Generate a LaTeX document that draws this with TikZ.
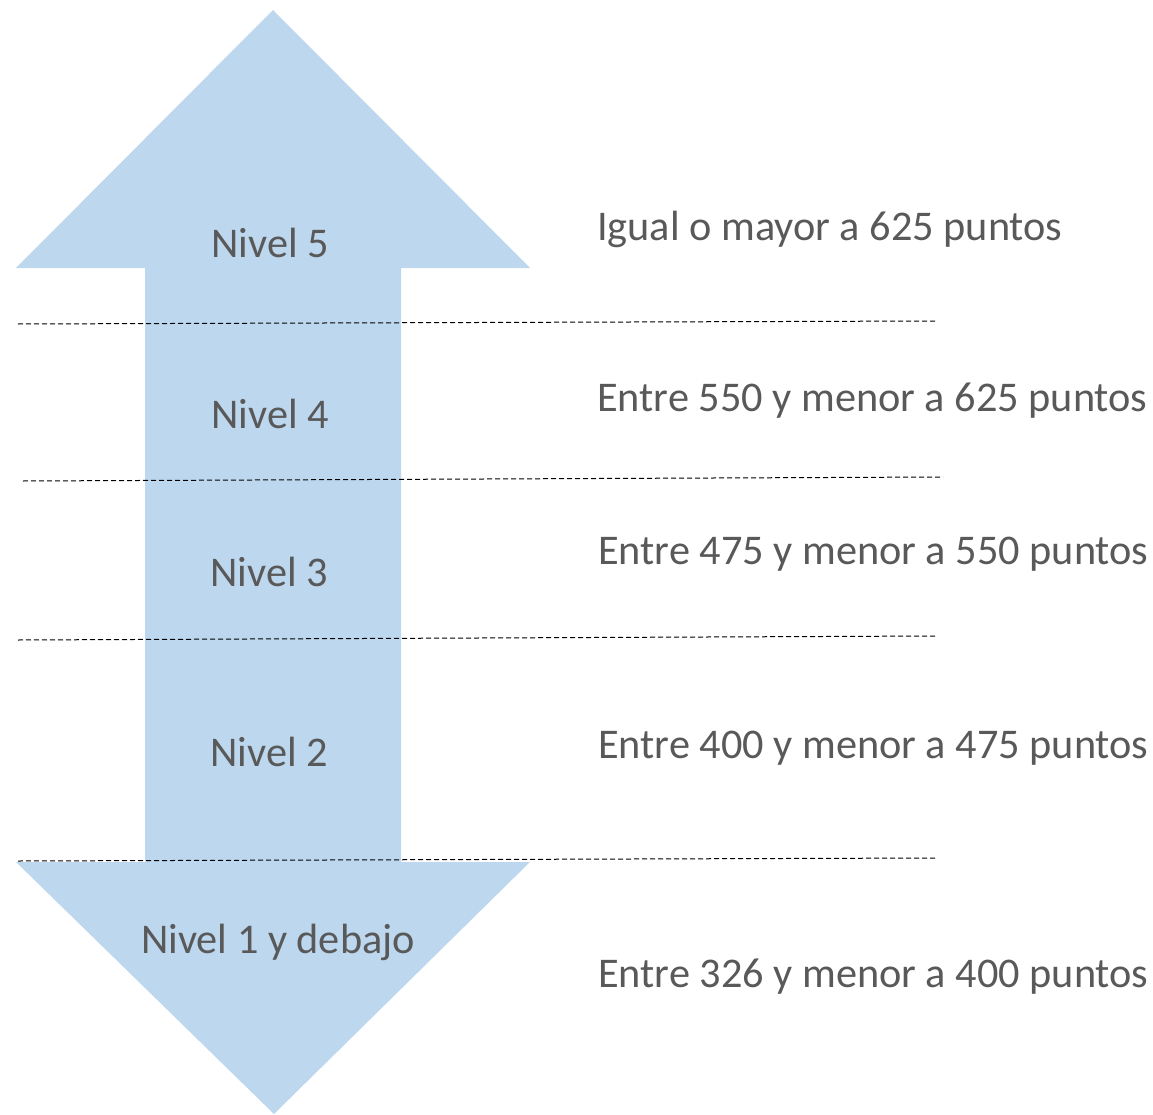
\documentclass[tikz,border=0pt]{standalone}
\usepackage{fontspec}
\setmainfont{Carlito}
\definecolor{arrowblue}{HTML}{BDD7EE}
\definecolor{txtgray}{HTML}{595959}
\begin{document}
\begin{tikzpicture}[x=1pt,y=-1pt,
  lvl/.style={anchor=base,inner sep=0pt,text=txtgray,font=\fontsize{42.3}{50}\selectfont},
  rng/.style={anchor=base west,inner sep=0pt,text=txtgray,font=\fontsize{42.3}{50}\selectfont},
  sep/.style={draw=black,line width=1pt,dash pattern=on 5pt off 3pt}]
\useasboundingbox (0,0) rectangle (1153,1115);
% double arrow shape
\fill[arrowblue] (273,10) -- (530,268) -- (401,268) -- (401,862) -- (530,862)
  -- (274,1114) -- (16,862) -- (145,862) -- (145,268) -- (16,268) -- cycle;
% separators
\coordinate (s1a) at (18,324); \coordinate (s1b) at (936,321);
\coordinate (s2a) at (23,481); \coordinate (s2b) at (943,477);
\coordinate (s3a) at (18,640); \coordinate (s3b) at (936,636);
\coordinate (s4a) at (18,861); \coordinate (s4b) at (936,858);
\draw[sep] (s1a) -- (s1b);
\draw[sep] (s2a) -- (s2b);
\draw[sep] (s3a) -- (s3b);
\draw[sep] (s4a) -- (s4b);
% level labels
\node[lvl] (n5) at (270,258) {Nivel 5};
\node[lvl] (n4) at (270,428) {Nivel 4};
\node[lvl] (n3) at (269,586) {Nivel 3};
\node[lvl] (n2) at (269,766) {Nivel 2};
\node[lvl] (n1) at (278,953) {Nivel 1 y debajo};
% ranges
\node[rng] (r5) at (597,241) {Igual o mayor a 625 puntos};
\node[rng] (r4) at (597,411) {Entre 550 y menor a 625 puntos};
\node[rng] (r3) at (598,564) {Entre 475 y menor a 550 puntos};
\node[rng] (r2) at (598,758) {Entre 400 y menor a 475 puntos};
\node[rng] (r1) at (598,987) {Entre 326 y menor a 400 puntos};
\end{tikzpicture}
\end{document}
